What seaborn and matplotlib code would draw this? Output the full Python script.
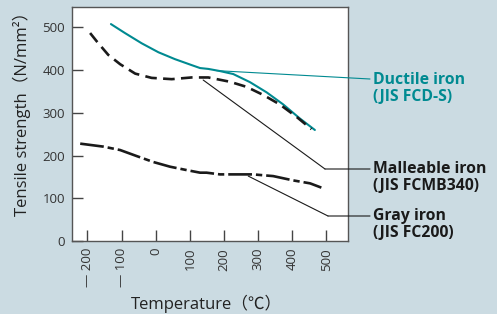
import numpy as np
import pandas as pd
import seaborn as sns
import matplotlib.pyplot as plt


# values
ductile_temp     = [-131, -90, -41, 8, 56, 105, 130, 154, 188, 227, 276, 325, 373, 422, 466]
ductile_strength = [508, 487, 463, 442, 426, 412, 405, 403, 398, 391, 372, 348, 320, 287, 260]

malleable_temp     = [-192, -172, -139, -104, -60, -12, 47, 105, 139, 154, 217, 266, 315, 363, 412, 456]
malleable_strength = [487, 467, 436, 414, 392, 382, 379, 383, 383, 383, 373, 361, 342, 320, 291, 262]

gray_temp     = [-221, -153, -104, -56, -7, 42, 91, 130, 149, 188, 246, 285, 344, 402, 452, 485]
gray_strength = [228, 221, 213, 199, 185, 174, 166, 160, 160, 156, 156, 156, 152, 142, 135, 125]

x_ticks = [-200, -100, 0, 100, 200, 300, 400, 500]
x_tick_labels = ["\u2014 200", "\u2014 100", "0", "100", "200", "300", "400", "500"]
y_ticks = [0, 100, 200, 300, 400, 500]

labels = ["Ductile iron\n(JIS FCD-S)", "Malleable iron\n(JIS FCMB340)", "Gray iron\n(JIS FC200)"]

BG    = "#cbdbe2"
TEAL  = "#008a91"
BLACK = "#1a1a1a"
W, H  = 497, 314

sns.set_style("ticks")
plt.rcParams['font.family'] = ['Open Sans', 'Noto Sans CJK JP', 'DejaVu Sans']

fig = plt.figure(figsize=(W / 100, H / 100), dpi=100)
fig.patch.set_facecolor(BG)
ax = fig.add_axes([72 / W, 1 - 241 / H, (348 - 72) / W, (241 - 7) / H])
ax.set_facecolor("white")

df_d = pd.DataFrame({"T": ductile_temp, "S": ductile_strength})
df_m = pd.DataFrame({"T": malleable_temp, "S": malleable_strength})
df_g = pd.DataFrame({"T": gray_temp, "S": gray_strength})

sns.lineplot(data=df_d, x="T", y="S", ax=ax, color=TEAL, lw=1.5, sort=False)
sns.lineplot(data=df_m, x="T", y="S", ax=ax, color=BLACK, lw=1.9, sort=False)
ax.lines[-1].set_dashes([4.4, 2.4])
sns.lineplot(data=df_g, x="T", y="S", ax=ax, color=BLACK, lw=1.9, sort=False)
ax.lines[-1].set_dashes([9.0, 1.5, 2.4, 1.5])

ax.set_xlim(-245, 563)
ax.set_ylim(0, 548)
ax.set_xticks(x_ticks)
ax.set_xticklabels(x_tick_labels, rotation=90, va="top")
ax.set_yticks(y_ticks)
ax.tick_params(direction="in", length=8, width=1, colors="#444444",
               labelcolor="#333333", labelsize=9.5, pad=5)
for s in ax.spines.values():
    s.set_color("#555555")
    s.set_linewidth(1)

ax.set_xlabel("Temperature\uff08\u2103\uff09", fontsize=12, color="#222222")
ax.set_ylabel("Tensile strength\uff08N/mm\u00b2\uff09", fontsize=12, color="#222222")
ax.xaxis.set_label_coords(0.487, -0.228)
ax.yaxis.set_label_coords(-0.15, 0.56)

# leader lines and labels (figure pixels, y from bottom)
line_kw = dict(arrowstyle="-", shrinkA=0, shrinkB=0, lw=0.8)

ax.annotate("", xy=(178, 399), xycoords="data", xytext=(370, H - 79),
            textcoords="figure pixels", arrowprops=dict(color=TEAL, **line_kw),
            annotation_clip=False)

ax.annotate("", xy=(139, 377), xycoords="data", xytext=(325, H - 169),
            textcoords="figure pixels", arrowprops=dict(color=BLACK, **line_kw),
            annotation_clip=False)
ax.annotate("", xy=(325, H - 169), xycoords="figure pixels", xytext=(370, H - 169),
            textcoords="figure pixels", arrowprops=dict(color=BLACK, **line_kw),
            annotation_clip=False)

ax.annotate("", xy=(271, 152), xycoords="data", xytext=(328, H - 216),
            textcoords="figure pixels", arrowprops=dict(color=BLACK, **line_kw),
            annotation_clip=False)
ax.annotate("", xy=(328, H - 216), xycoords="figure pixels", xytext=(370, H - 216),
            textcoords="figure pixels", arrowprops=dict(color=BLACK, **line_kw),
            annotation_clip=False)

for lab, y_top, c in zip(labels, [72, 161, 208], [TEAL, BLACK, BLACK]):
    fig.text(373 / W, 1 - y_top / H, lab, color=c, fontsize=11.3, fontweight="bold",
             va="top", ha="left", linespacing=1.1)

fig.savefig("out.png", dpi=100, facecolor=BG)
